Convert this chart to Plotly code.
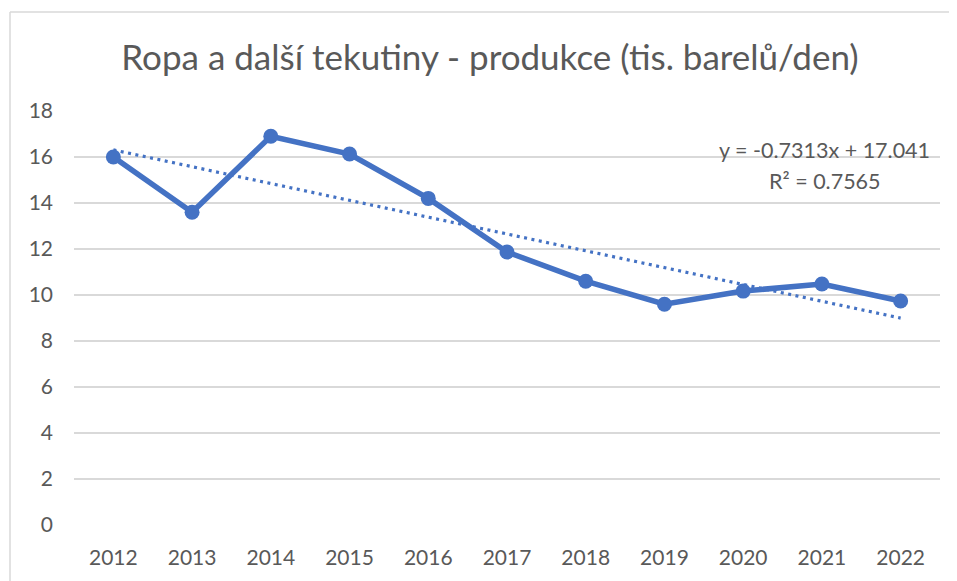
import plotly.graph_objects as go
import numpy as np

years = ["2012", "2013", "2014", "2015", "2016", "2017", "2018", "2019", "2020", "2021", "2022"]
production = [16.0, 13.6, 16.9, 16.13, 14.2, 11.87, 10.6, 9.6, 10.17, 10.48, 9.74]
trend_slope = -0.7313
trend_intercept = 17.041
r_squared = 0.7565
y_ticks = [0, 2, 4, 6, 8, 10, 12, 14, 16, 18]

title = "Ropa a další tekutiny - produkce (tis. barelů/den)"

BLUE = "#4472C4"
GRAY_TXT = "#595959"
GRID = "#D9D9D9"
FONT = "Lato"

idx = np.arange(1, len(years) + 1)
trend = trend_slope * idx + trend_intercept

OFF = 8  # page body margin
W, H = 957 - OFF, 581 - OFF
# page coordinates of the plot area
PL, PR, PT, PB = 74, 940, 111, 525
L, T = PL - OFF, PT - OFF
R, B = W - (PR - OFF), H - (PB - OFF)
pw, ph = PR - PL, PB - PT

def px_x(x):
    return (x - PL) / pw

def px_y(y):
    return (PB - y) / ph

fig = go.Figure()
fig.add_trace(go.Scatter(x=years, y=trend, mode="lines",
                         line=dict(color=BLUE, width=3.2, dash="3px,4.5px"),
                         hoverinfo="skip", showlegend=False))
fig.add_trace(go.Scatter(x=years, y=production, mode="lines+markers",
                         line=dict(color=BLUE, width=5.5),
                         marker=dict(color=BLUE, size=15),
                         showlegend=False))

fig.update_layout(
    width=W, height=H,
    margin=dict(l=L, r=R, t=T, b=B, autoexpand=False),
    paper_bgcolor="white", plot_bgcolor="white",
    font=dict(family=FONT, color=GRAY_TXT, size=21),
    title=dict(text=title, x=(490 - OFF) / W, xanchor="center", xref="container",
               y=1 - (58 - OFF) / H, yanchor="middle", yref="container",
               font=dict(family=FONT, size=35, color=GRAY_TXT)),
    xaxis=dict(type="category", range=[-0.5, len(years) - 0.5],
               showgrid=False, zeroline=False, showline=False, ticks="",
               tickfont=dict(size=21, color=GRAY_TXT), ticklabelstandoff=18),
    yaxis=dict(range=[0, 18], tickvals=y_ticks, showgrid=True, gridcolor=GRID,
               gridwidth=1.5, zeroline=False, showline=False, ticks="",
               tickfont=dict(size=21, color=GRAY_TXT), ticklabelstandoff=20),
    shapes=[
        dict(type="line", xref="paper", yref="paper",
             x0=px_x(10), x1=px_x(970), y0=px_y(12), y1=px_y(12),
             line=dict(color=GRID, width=1.5)),
        dict(type="line", xref="paper", yref="paper",
             x0=px_x(10), x1=px_x(10), y0=px_y(12), y1=px_y(590),
             line=dict(color=GRID, width=1.5)),
    ],
    annotations=[
        dict(text=f"y = {trend_slope}x + {trend_intercept}", xref="paper", yref="paper",
             x=px_x(824), y=px_y(150), xanchor="center", yanchor="middle",
             showarrow=False, font=dict(size=21.5, color=GRAY_TXT, family=FONT)),
        dict(text=f"R² = {r_squared}", xref="paper", yref="paper",
             x=px_x(825), y=px_y(181), xanchor="center", yanchor="middle",
             showarrow=False, font=dict(size=21.5, color=GRAY_TXT, family=FONT)),
    ],
)

fig.write_html("out.html")
